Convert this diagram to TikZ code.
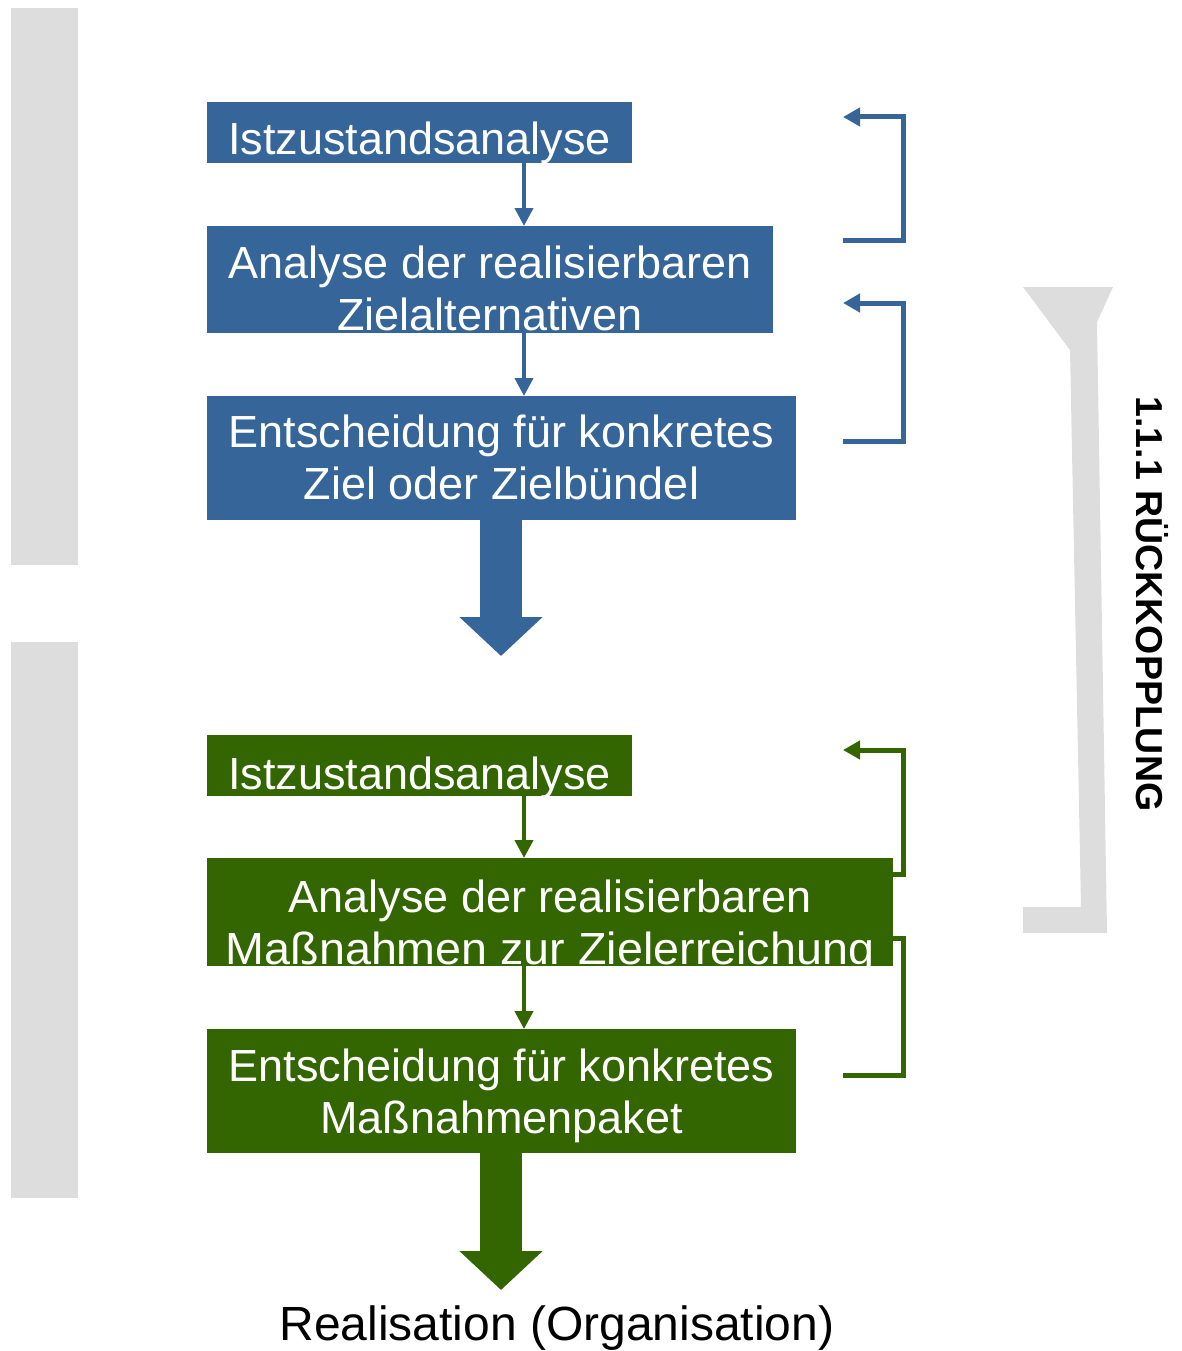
\documentclass[tikz,border=0pt]{standalone}
\usepackage{fontspec}
\setmainfont{Liberation Sans}
\usetikzlibrary{arrows.meta}
\definecolor{cblue}{RGB}{54,102,153}
\definecolor{cgreen}{RGB}{51,102,0}
\definecolor{cgray}{RGB}{221,221,221}
\begin{document}
\begin{tikzpicture}[x=1pt,y=-1pt,
  boxstyle/.style={draw=none,inner sep=0pt,outer sep=0pt,anchor=north west},
  bluebox/.style={boxstyle,fill=cblue},
  greenbox/.style={boxstyle,fill=cgreen},
  boxtext/.style={text=white,inner sep=0pt,anchor=base,font=\fontsize{45}{52}\selectfont},
  smallarrow/.style={line width=4pt,-{Triangle[length=18pt,width=18pt]}},
  bigarrow/.style={line width=42pt,-{Triangle[length=39pt,width=81pt]}},
  bracket/.style={line width=5pt,line join=miter,-{Triangle[length=17pt,width=18pt]}},
  graybar/.style={fill=cgray,draw=none}]
\useasboundingbox (0,0) rectangle (1181,1351);
% gray side bars
\fill[graybar] (11,8) rectangle (78,565);
\fill[graybar] (11,642) rectangle (78,1198);
% feedback funnel
\fill[cgray] (1023,287) -- (1113,287) -- (1097,322) -- (1107,933) -- (1023,933) -- (1023,907) -- (1081,907) -- (1070,350) -- cycle;
\node[rotate=-90,font=\fontsize{37.5}{40}\selectfont\bfseries,inner sep=0pt] (rk) at (1152,604) {1.1.1 RÜCKKOPPLUNG};
% brackets
\coordinate (p1a) at (843,240); \coordinate (p1b) at (903,240); \coordinate (p1c) at (903,117); \coordinate (p1d) at (843,117);
\draw[bracket,cblue] (p1a) -- (p1b) -- (p1c) -- (p1d);
\coordinate (p2a) at (843,441); \coordinate (p2b) at (903,441); \coordinate (p2c) at (903,303); \coordinate (p2d) at (843,303);
\draw[bracket,cblue] (p2a) -- (p2b) -- (p2c) -- (p2d);
\coordinate (p3a) at (843,874); \coordinate (p3b) at (903,874); \coordinate (p3c) at (903,750); \coordinate (p3d) at (843,750);
\draw[bracket,cgreen] (p3a) -- (p3b) -- (p3c) -- (p3d);
\coordinate (p4a) at (843,1075); \coordinate (p4b) at (903,1075); \coordinate (p4c) at (903,938); \coordinate (p4d) at (843,938);
\draw[cgreen,line width=5pt,line join=miter] (p4a) -- (p4b) -- (p4c) -- (p4d);
% blue boxes
\node[bluebox,minimum width=425pt,minimum height=61pt] (b1) at (207,102) {};
\node[bluebox,minimum width=566pt,minimum height=107pt] (b2) at (207,226) {};
\node[bluebox,minimum width=589pt,minimum height=124pt] (b3) at (207,396) {};
% green boxes
\node[greenbox,minimum width=425pt,minimum height=61pt] (g1) at (207,735) {};
\node[greenbox,minimum width=686pt,minimum height=108pt] (g2) at (207,858) {};
\node[greenbox,minimum width=589pt,minimum height=124pt] (g3) at (207,1029) {};
% texts (clipped to boxes)
\begin{scope}\clip (b1.north west) rectangle (b1.south east);
\node[boxtext] (t1) at (419.5,155) {Istzustandsanalyse};\end{scope}
\begin{scope}\clip (b2.north west) rectangle (b2.south east);
\node[boxtext] (t2a) at (490,278) {Analyse der realisierbaren};
\node[boxtext] (t2b) at (490,330) {Zielalternativen};\end{scope}
\begin{scope}\clip (b3.north west) rectangle (b3.south east);
\node[boxtext] (t3a) at (501.5,447) {Entscheidung für konkretes};
\node[boxtext] (t3b) at (501.5,499) {Ziel oder Zielbündel};\end{scope}
\begin{scope}\clip (g1.north west) rectangle (g1.south east);
\node[boxtext] (u1) at (419.5,789) {Istzustandsanalyse};\end{scope}
\begin{scope}\clip (g2.north west) rectangle (g2.south east);
\node[boxtext] (u2a) at (550,912) {Analyse der realisierbaren};
\node[boxtext,xscale=1.037] (u2b) at (550,964) {Maßnahmen zur Zielerreichung};\end{scope}
\begin{scope}\clip (g3.north west) rectangle (g3.south east);
\node[boxtext] (u3a) at (501.5,1081) {Entscheidung für konkretes};
\node[boxtext] (u3b) at (501.5,1133) {Maßnahmenpaket};\end{scope}
% small arrows
\coordinate (ax) at (524,0);
\draw[smallarrow,cblue] (b1.south -| ax) -- (b2.north -| ax);
\draw[smallarrow,cblue] (b2.south -| ax) -- (b3.north -| ax);
\draw[smallarrow,cgreen] (g1.south -| ax) -- (g2.north -| ax);
\draw[smallarrow,cgreen] (g2.south -| ax) -- (g3.north -| ax);
% big arrows
\coordinate (bx) at (501,0);
\coordinate (e1) at (501,656);
\coordinate (e2) at (501,1290);
\draw[bigarrow,cblue] (b3.south -| bx) -- (e1);
\draw[bigarrow,cgreen] (g3.south -| bx) -- (e2);
% final label
\node[inner sep=0pt,anchor=base,font=\fontsize{48}{52}\selectfont] (real) at (557,1340) {Realisation (Organisation)};
\end{tikzpicture}
\end{document}
